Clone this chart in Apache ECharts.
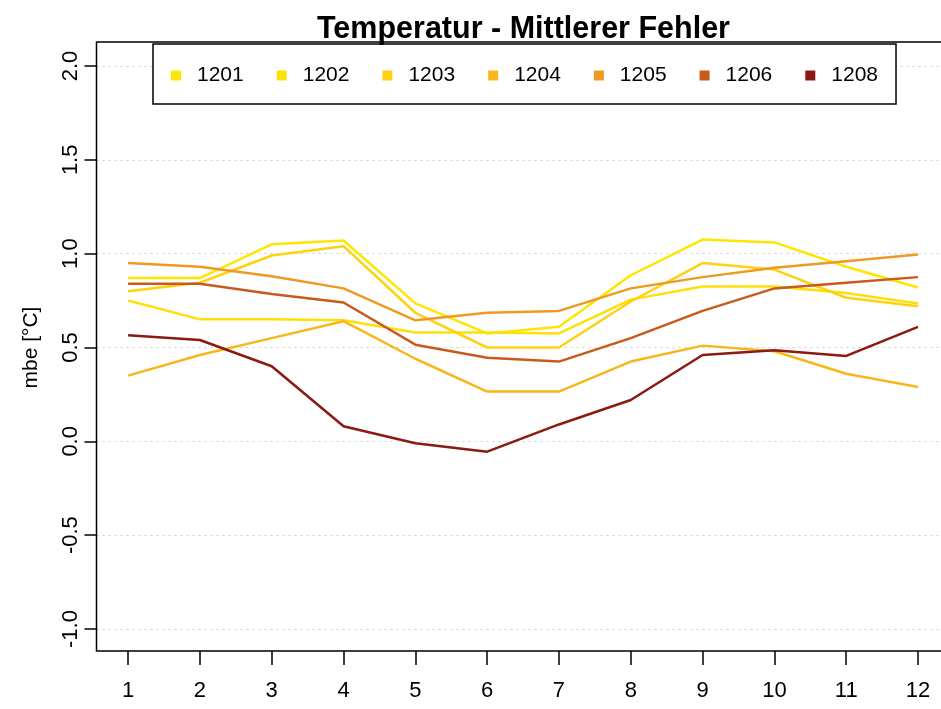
<!DOCTYPE html>
<html>
<head>
<meta charset="utf-8">
<script src="https://cdn.jsdelivr.net/npm/echarts@6/dist/echarts.min.js"></script>
<style>
  html, body { margin: 0; padding: 0; background: #fff; }
  #chart { width: 941px; height: 709px; }
</style>
</head>
<body>
<div id="chart"></div>
<script>
// Monthly mean bias error of temperature per station
const months = [1, 2, 3, 4, 5, 6, 7, 8, 9, 10, 11, 12];
const yTicks = [-1.0, -0.5, 0.0, 0.5, 1.0, 1.5, 2.0];

const stations = ['1201', '1202', '1203', '1204', '1205', '1206', '1208'];
const colors = ['#FFE600', '#FFDF0A', '#FFD111', '#F7B71A', '#EE9A22', '#C85A1C', '#8B1A10'];

const mbe1201 = [0.87, 0.87, 1.05, 1.07, 0.735, 0.575, 0.61, 0.885, 1.075, 1.06, 0.93, 0.82];
const mbe1202 = [0.75, 0.65, 0.65, 0.645, 0.58, 0.58, 0.575, 0.755, 0.825, 0.825, 0.79, 0.735];
const mbe1203 = [0.80, 0.845, 0.99, 1.04, 0.685, 0.50, 0.50, 0.745, 0.95, 0.915, 0.765, 0.72];
const mbe1204 = [0.35, 0.46, 0.55, 0.64, 0.44, 0.265, 0.265, 0.425, 0.51, 0.48, 0.36, 0.29];
const mbe1205 = [0.95, 0.93, 0.88, 0.815, 0.645, 0.685, 0.695, 0.815, 0.875, 0.925, 0.96, 0.995];
const mbe1206 = [0.84, 0.84, 0.785, 0.74, 0.515, 0.445, 0.425, 0.55, 0.695, 0.815, 0.845, 0.875];
const mbe1208 = [0.565, 0.54, 0.40, 0.08, -0.01, -0.055, 0.09, 0.22, 0.46, 0.485, 0.455, 0.61];

const values = [mbe1201, mbe1202, mbe1203, mbe1204, mbe1205, mbe1206, mbe1208];

const FONT = '"Liberation Sans", Arial, sans-serif';

const chart = echarts.init(document.getElementById('chart'), null, { renderer: 'canvas' });

const series = stations.map((name, i) => ({
  name: name,
  type: 'line',
  data: months.map((m, j) => [m, values[i][j]]),
  showSymbol: false,
  symbol: 'none',
  lineStyle: { color: colors[i], width: 2.5 },
  itemStyle: { color: colors[i] },
  emphasis: { disabled: true },
  animation: false,
  z: 3
}));

chart.setOption({
  backgroundColor: '#ffffff',
  animation: false,
  title: {
    text: 'Temperatur - Mittlerer Fehler',
    left: 312,
    top: 9,
    textStyle: { fontFamily: FONT, fontSize: 30.5, fontWeight: 'bold', color: '#000' }
  },
  legend: {
    data: stations.map(s => ({ name: s, icon: 'rect' })),
    left: 153,
    top: 44,
    orient: 'horizontal',
    itemWidth: 10,
    itemHeight: 10,
    itemGap: 33,
    padding: [21, 18, 18, 18],
    borderColor: '#000',
    borderWidth: 1.5,
    backgroundColor: '#fff',
    selectedMode: false,
    textStyle: { fontFamily: FONT, fontSize: 21, color: '#000', padding: [0, 0, 0, 11] }
  },
  grid: {
    left: 96.5,
    top: 66,
    right: 0,
    height: 563,
    containLabel: false
  },
  xAxis: {
    type: 'value',
    min: 0.56,
    max: 12.32,
    offset: 22,
    axisLine: { show: false, onZero: false },
    axisTick: { show: true, customValues: months, length: 14, lineStyle: { color: '#000', width: 1.5 } },
    axisLabel: { customValues: months, margin: 29, fontFamily: FONT, fontSize: 22, color: '#000' },
    splitLine: { show: false }
  },
  yAxis: {
    type: 'value',
    min: -1,
    max: 2,
    interval: 0.5,
    name: 'mbe [°C]',
    nameLocation: 'middle',
    nameGap: 55,
    nameRotate: 90,
    nameTextStyle: { fontFamily: FONT, fontSize: 21, color: '#000' },
    axisLine: { show: false, onZero: false },
    axisTick: { show: true, length: 12, lineStyle: { color: '#000', width: 1.5 } },
    axisLabel: {
      rotate: 90,
      margin: 15,
      fontFamily: FONT,
      fontSize: 22,
      color: '#000',
      formatter: v => v.toFixed(1)
    },
    splitLine: { show: true, lineStyle: { color: '#cfcfcf', width: 1.2, type: [2, 4] } }
  },
  graphic: [{
    type: 'rect',
    shape: { x: 96.5, y: 42, width: 860, height: 609 },
    style: { fill: 'none', stroke: '#000', lineWidth: 1.5 },
    z: 10,
    silent: true
  }],
  series: series
});
</script>
</body>
</html>
